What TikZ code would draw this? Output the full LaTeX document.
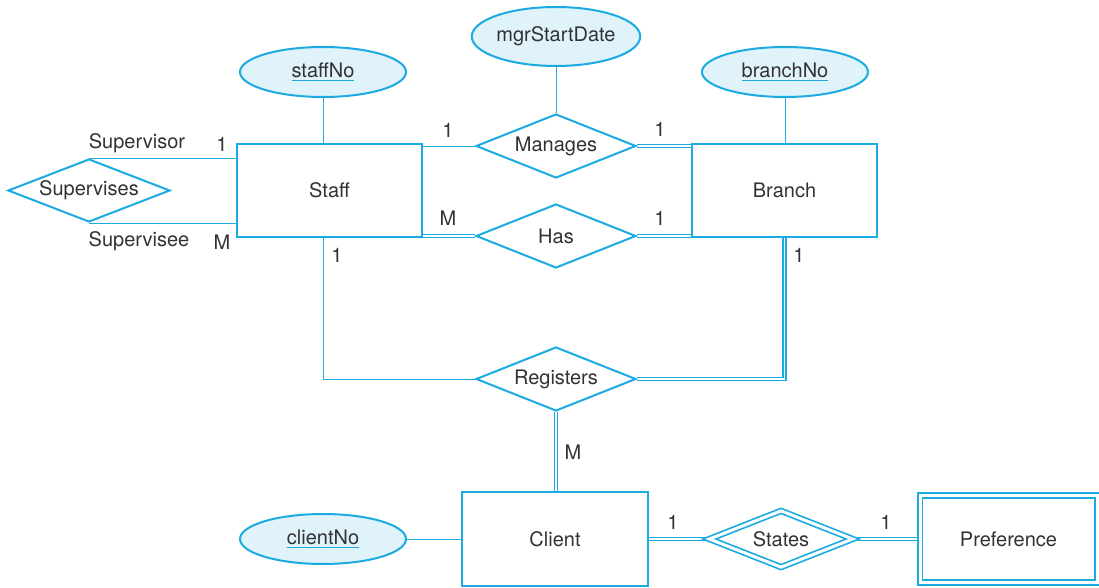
\documentclass[tikz,border=0pt]{standalone}
\usepackage{fontspec}
\setmainfont{TeX Gyre Heros}
\usetikzlibrary{shapes.geometric,backgrounds}
\definecolor{erblue}{RGB}{27,170,226}
\definecolor{erfill}{RGB}{224,243,251}
\definecolor{ertext}{RGB}{50,50,50}
\newcommand{\pkey}[1]{{\color{erblue}\underline{\textcolor{ertext}{#1}}}}
\begin{document}
\begin{tikzpicture}[x=0.5pt, y=-0.5pt, line width=1pt,
    every node/.style={text=ertext, font=\fontsize{10}{12}\selectfont},
    entity/.style={draw=erblue, rectangle, inner sep=0pt},
    weakentity/.style={entity, line width=0.85pt, double, double distance=1.5pt},
    relation/.style={draw=erblue, diamond, inner sep=0pt, aspect=2.5},
    weakrel/.style={relation, line width=0.85pt, double, double distance=1.5pt},
    attrib/.style={draw=erblue, fill=erfill, ellipse, inner sep=0pt},
    link/.style={draw=erblue},
    full/.style={draw=erblue, line width=0.75pt, double, double distance=0.75pt}]
  \useasboundingbox (0,0) rectangle (1099,588);

  % 1. entities
  \node[entity, minimum width=92.5pt, minimum height=46.5pt] (Staff) at (329.5,190.5) {Staff};
  \node[entity, minimum width=92.5pt, minimum height=46.5pt] (Branch) at (784.5,190.5) {Branch};
  \node[entity, minimum width=93pt, minimum height=47pt] (Client) at (555,539) {Client};
  \node[weakentity, minimum width=88.5pt, minimum height=43.5pt] (Preference) at (1008.5,539) {Preference};

  % 2. relationships
  \node[relation, minimum width=81pt, minimum height=31.5pt] (Supervises) at (89,190.5) {Supervises};
  \node[relation, minimum width=80pt, minimum height=32pt] (Manages) at (556,146) {Manages};
  \node[relation, minimum width=80pt, minimum height=32pt] (Has) at (556,236) {Has};
  \node[relation, minimum width=80pt, minimum height=32pt] (Registers) at (556,379) {Registers};
  \node[weakrel, minimum width=72pt, minimum height=28.5pt] (States) at (781,539) {States};

  % 3. attributes
  \node[attrib, minimum width=83pt, minimum height=25pt] (staffNo) at (323,72) {\pkey{staffNo}};
  \node[attrib, minimum width=84pt, minimum height=29.5pt] (mgrStartDate) at (556,36.5) {mgrStartDate};
  \node[attrib, minimum width=83pt, minimum height=25pt] (branchNo) at (785,72) {\pkey{branchNo}};
  \node[attrib, minimum width=83pt, minimum height=25pt] (clientNo) at (323,539) {\pkey{clientNo}};

  % 4. connectors
  \begin{scope}[on background layer]
    \draw[link] (staffNo.south) -- (staffNo.south |- Staff.north);
    \draw[link] (mgrStartDate.south) -- (Manages.north);
    \draw[link] (branchNo.south) -- (branchNo.south |- Branch.north);
    \draw[link] (clientNo.east) -- (Client.west);
    \draw[link] (Supervises.north) -- (Supervises.north -| Staff.west);
    \draw[link] (Supervises.south) -- (Supervises.south -| Staff.west);
    \draw[link] (Manages.west) -- (Manages.west -| Staff.east);
    \draw[full] (Manages.east) -- (Manages.east -| Branch.west);
    \draw[full] (Has.west) -- (Has.west -| Staff.east);
    \draw[full] (Has.east) -- (Has.east -| Branch.west);
    \draw[link] (Registers.west) -| (staffNo.south |- Staff.south);
    \draw[full] (Registers.east) -| (Branch.south);
    \draw[full] (Registers.south) -- (Registers.south |- Client.north);
    \draw[full] (Client.east) -- (States.west);
    \draw[full] (States.east) -- (Preference.west);
  \end{scope}

  % 5. roles and cardinalities
  \node (lblSupervisor) at (137,143) {Supervisor};
  \node (cSupOne) at (222,144) {1};
  \node (lblSupervisee) at (139,241) {Supervisee};
  \node (cSupMany) at (222,242) {M};
  \node (cMgrStaff) at (448,130) {1};
  \node (cMgrBranch) at (660,129) {1};
  \node (cHasStaff) at (448,218) {M};
  \node (cHasBranch) at (660,218) {1};
  \node (cRegStaff) at (337,255) {1};
  \node (cRegBranch) at (799,255) {1};
  \node (cRegClient) at (573,452) {M};
  \node (cStClient) at (673,522) {1};
  \node (cStPref) at (886,522) {1};
\end{tikzpicture}
\end{document}
